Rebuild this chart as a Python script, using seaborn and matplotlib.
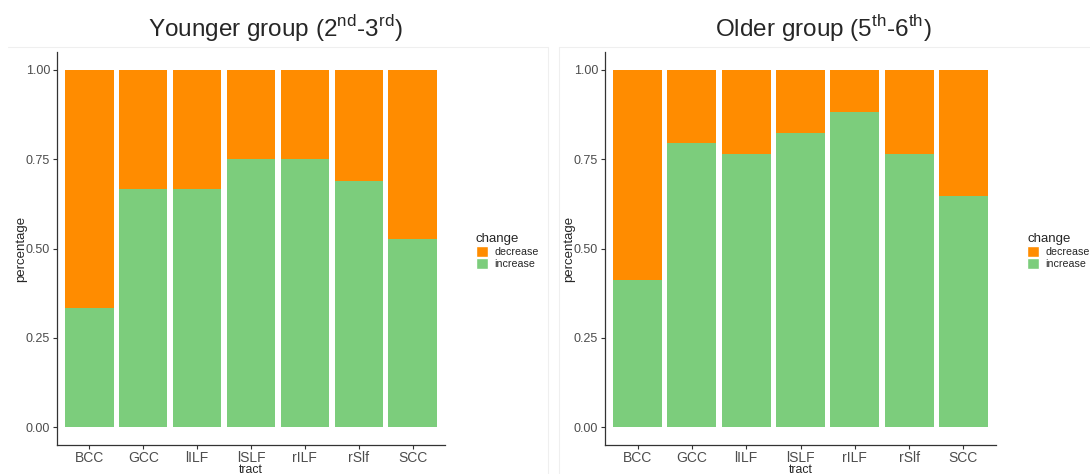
import pandas as pd
import matplotlib.pyplot as plt
import seaborn as sns
from matplotlib.patches import Patch
from matplotlib.lines import Line2D

# dados
tracts = ["BCC", "GCC", "lILF", "lSLF", "rILF", "rSlf", "SCC"]
younger_increase = [0.333, 0.667, 0.667, 0.75, 0.75, 0.69, 0.526]
older_increase = [0.412, 0.794, 0.765, 0.824, 0.882, 0.765, 0.647]
titles = [r"Younger group (2$^{\mathrm{nd}}$-3$^{\mathrm{rd}}$)",
          r"Older group (5$^{\mathrm{th}}$-6$^{\mathrm{th}}$)"]
laranja = "#FF8C00"
verde = "#7CCD7C"

sns.set_style("white")
plt.rcParams["font.family"] = ["Liberation Sans", "DejaVu Sans"]
plt.rcParams["mathtext.fontset"] = "custom"
plt.rcParams["mathtext.rm"] = "Liberation Sans"

fig = plt.figure(figsize=(10.9, 4.74), dpi=100)

# bordas claras dos paineis
for xs, ys in [([8, 548], [47, 47]), ([548, 548], [47, 474]),
               ([559, 559], [47, 474]), ([559, 1090], [47, 47])]:
    fig.add_artist(Line2D([x / 1090 for x in xs], [1 - y / 474 for y in ys],
                          color="#efefef", lw=0.8))

posicoes = [(57, 445, 275), (605, 996, 823)]
for (x0, x1, tx), inc, titulo in zip(posicoes, [younger_increase, older_increase], titles):
    ax = fig.add_axes([x0 / 1090, 1 - 445 / 474, (x1 - x0) / 1090, (445 - 52) / 474])
    df = pd.DataFrame({"tract": tracts, "increase": inc})
    df["decrease"] = 1 - df["increase"]
    df["total"] = df["increase"] + df["decrease"]

    sns.barplot(data=df, x="tract", y="total", color=laranja, width=0.9,
                saturation=1, ax=ax, linewidth=0)
    sns.barplot(data=df, x="tract", y="increase", color=verde, width=0.9,
                saturation=1, ax=ax, linewidth=0)

    ax.set_xlim(-0.6, 6.6)
    ax.set_ylim(-0.05, 1.05)
    ax.set_yticks([0, 0.25, 0.5, 0.75, 1.0])
    ax.set_yticklabels(["0.00", "0.25", "0.50", "0.75", "1.00"])
    ax.tick_params(axis="y", left=True, labelsize=9, length=3, width=0.8, pad=2,
                   color="#333333", labelcolor="#4d4d4d")
    ax.tick_params(axis="x", bottom=True, labelsize=10, length=3, width=0.8, pad=1,
                   color="#333333", labelcolor="#4d4d4d")
    ax.set_xlabel("tract", fontsize=8.8, labelpad=-0.6)
    ax.set_ylabel("percentage", fontsize=9.5, labelpad=-1)
    for s in ["top", "right"]:
        ax.spines[s].set_visible(False)
    for s in ["left", "bottom"]:
        ax.spines[s].set_color("#333333")
        ax.spines[s].set_linewidth(0.9)

    handles = [Patch(facecolor=laranja, label="decrease"),
               Patch(facecolor=verde, label="increase")]
    ax.legend(handles=handles, title="change", frameon=False, fontsize=7.7,
              title_fontsize=9.5, loc="center left", alignment="left",
              bbox_to_anchor=((x1 + 31) / 1090, 1 - 251 / 474),
              bbox_transform=fig.transFigure, handlelength=1.1, handleheight=1.15,
              labelspacing=0.1, handletextpad=0.6, borderaxespad=0, borderpad=0)

    fig.text(tx / 1090, 1 - 29 / 474, titulo, ha="center", va="center", fontsize=17.5)

plt.savefig("out.png", dpi=100)
